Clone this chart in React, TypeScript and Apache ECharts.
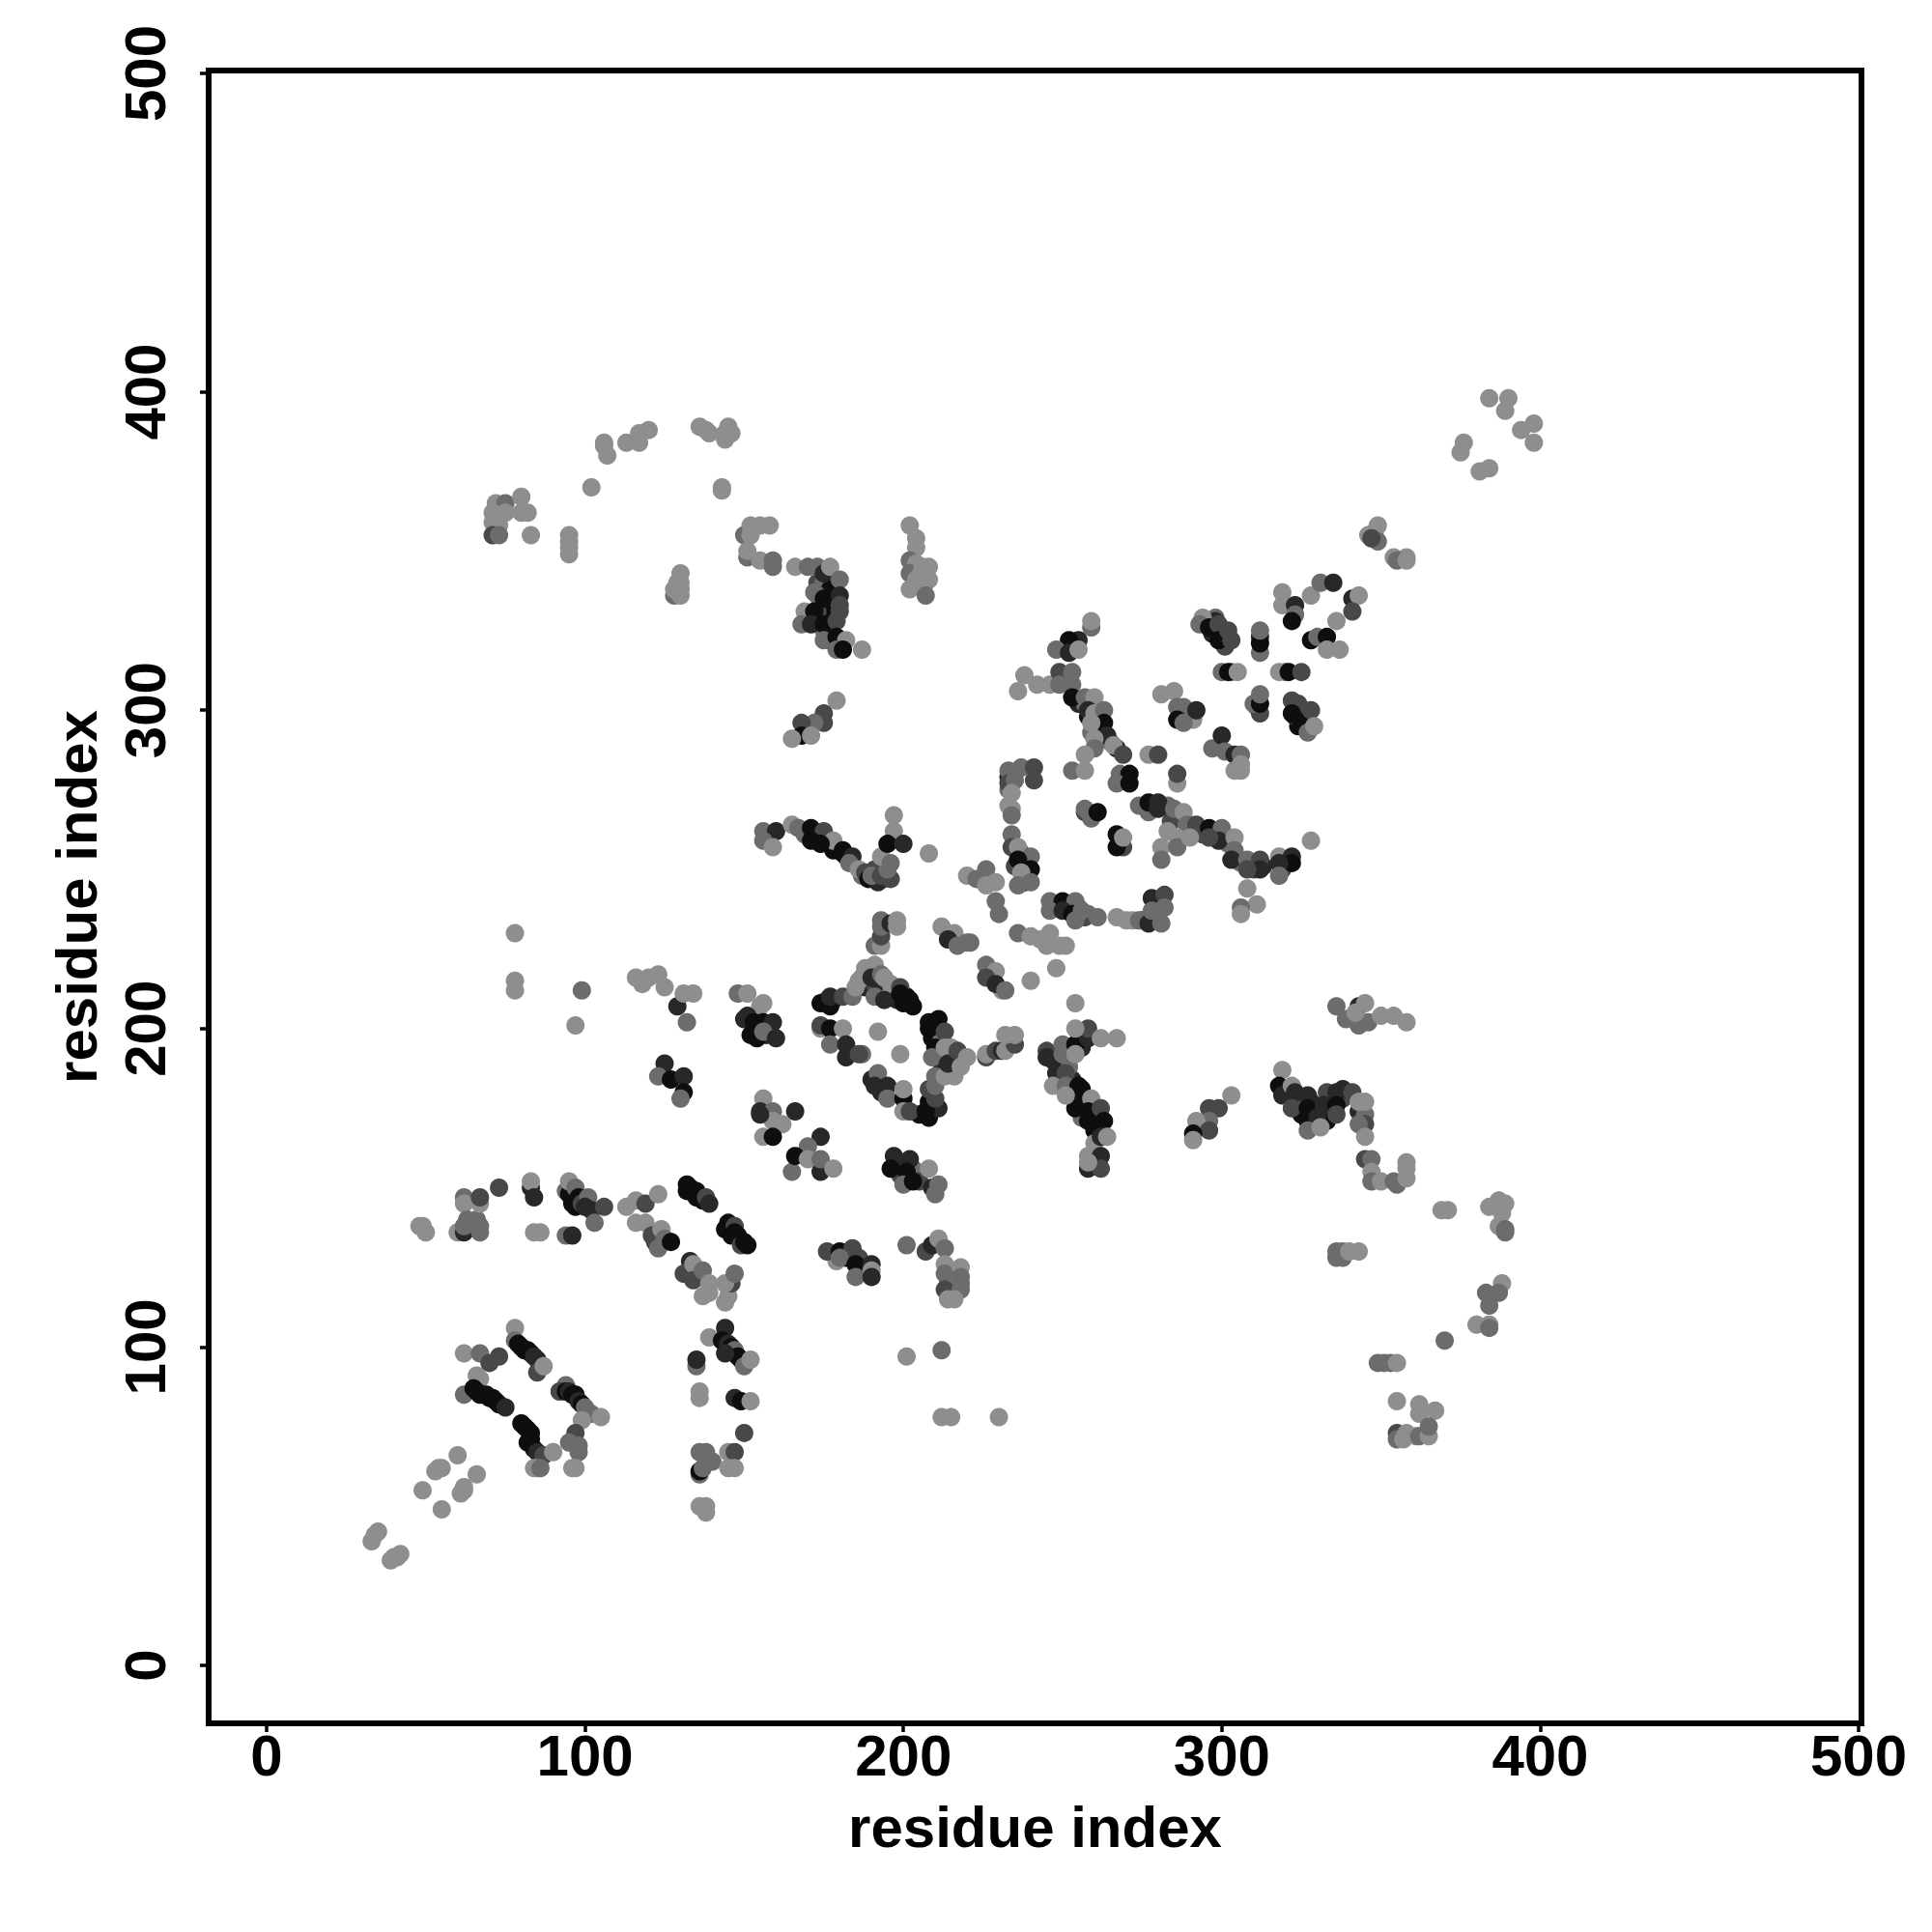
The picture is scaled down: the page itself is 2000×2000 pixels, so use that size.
import React, { useEffect, useRef } from "react";
import * as echarts from "echarts";

const TICKS = [0, 100, 200, 300, 400, 500];
const AXIS_TITLE = "residue index";
const SHADES = ["#8e8e8e", "#6c6c6c", "#484848", "#282828", "#0e0e0e"];

// [residue x, residue y, shade index]
const underlayBlock = [[173,340,2],[177,341,3],[175,340,1],[177,338,4],[175,331,4],[177,333,1],[177,330,4],[180,331,2],[177,326,4],[173,331,2],[170,328,4],[175,325,1],[177,322,4],[172,337,1],[207,342,3],[343,207,3]];
const underlayLoop = [[178,209,3],[176,209,2],[187,216,1],[188,213,3],[191,214,2],[193,213,3],[196,211,1],[198,209,3],[203,207,4],[201,210,4],[190,218,1],[186,215,0],[209,197,4],[212,197,1],[215,192,1],[216,190,0],[213,192,2],[212,189,3],[214,191,0],[218,190,1],[211,203,4],[205,173,4],[208,172,4],[211,175,3],[190,184,3],[193,180,3],[187,192,1]];
const underlayMid = [[152,203,4],[155,200,3],[157,198,3],[158,200,4],[153,199,4],[150,203,3],[152,198,4],[63,137,2],[64,139,0],[66,140,1]];
const underlayCol = [[256,177,4],[256,172,1],[253,184,3],[250,190,2],[252,188,1],[247,190,3],[256,194,3],[260,168,4],[260,164,0],[260,173,1],[256,181,4]];
const underlayRight = [[320,180,4],[322,178,3],[324,178,2],[325,173,4],[328,177,3],[329,173,4],[331,174,2],[334,178,3],[338,178,2],[334,174,3],[338,181,3],[329,170,1],[333,171,4]];
const underlayCurve = [[283,270,1],[287,266,0],[291,262,1],[294,261,2],[298,261,3],[302,258,1],[306,252,1],[310,250,2],[313,251,3],[319,250,2],[320,253,4],[290,264,1],[284,265,2],[283,262,0]];
const underlayBand = [[248,238,2],[252,238,3],[255,238,1],[258,236,1],[272,234,0],[275,234,3],[279,234,1],[280,240,1],[279,236,3],[233,279,3],[235,280,1],[233,275,1],[235,251,2],[237,255,3],[239,252,1],[238,248,3],[238,246,4]];
const underlayCross = [[255,302,3],[257,302,1],[261,298,4],[262,294,1],[265,290,1],[267,288,3],[259,293,1],[258,298,4],[289,298,1],[291,297,0],[288,299,4],[270,279,3],[269,278,2],[274,270,1]];
const underlayV = [[177,258,3],[182,254,2],[187,248,1],[191,250,2],[194,247,1],[172,261,3],[169,261,1],[173,260,4],[178,256,4]];
const underlayJ = [[198,158,4],[199,154,2],[199,157,3],[203,156,1],[205,152,2],[182,128,4],[183,130,3],[187,126,3],[188,124,4],[186,128,2],[179,127,0],[214,121,1],[216,123,2],[216,120,0],[216,118,1],[214,116,1],[218,120,1]];
const underlayTop = [[297,324,3],[300,325,4],[298,329,1],[301,320,2],[298,328,3],[312,323,3],[303,312,1],[320,312,1],[326,297,3],[324,295,4],[323,298,3],[311,301,1]];
const diagonalLow = [[35,42,0],[33,39,0],[34,41,0],[42,35,0],[39,33,0],[40,34,0],[41,34,0],[60,66,0],[55,62,0],[54,62,0],[53,61,0],[66,60,0],[49,55,0],[62,56,0],[61,54,0],[62,55,0],[55,49,0]];
const loopA = [[62,98,0],[67,98,1],[70,95,2],[73,97,2],[67,90,0],[66,91,0],[62,85,1],[65,87,4],[66,86,4],[67,85,4],[69,85,4],[70,84,4],[71,84,4],[72,83,4],[73,82,4],[75,81,3],
[78,106,0],[78,102,1],[79,101,4],[80,100,4],[81,99,4],[82,99,4],[83,98,4],[84,97,3],[85,96,3],[85,92,2],[87,94,0],
[94,88,1],[92,86,2],[94,86,4],[95,86,3],[96,85,4],[97,85,4],[98,83,3],[99,82,4],[100,81,1],[102,79,1],[99,77,0],[105,78,0],
[80,76,4],[81,75,4],[82,74,4],[83,73,4],[82,70,4],[83,71,4],[84,68,4],[85,67,3],[87,66,2],[90,67,0],[85,62,1],[84,62,0],[86,62,1],
[97,73,2],[95,70,1],[98,69,1],[98,67,1],[97,62,0],[96,62,0]];
const rowB = [[48,138,0],[49,138,0],[50,136,0],[62,147,1],[62,145,0],[67,145,0],[67,147,2],[73,150,2],[60,136,0],[62,136,3],[62,138,1],[67,136,1],[67,138,1],[63,140,1],
[83,150,3],[83,152,0],[84,147,3],[84,136,0],[86,136,0],[94,135,1],[96,135,3]];
const diagC = [[94,149,1],[95,148,4],[96,147,4],[95,152,0],[97,150,1],[98,147,4],[96,145,4],[97,144,4],[99,145,2],[101,147,1],[100,144,3],[102,143,3],[106,144,2],[103,139,1],
[113,144,0],[116,146,0],[119,145,2],[123,148,0],[116,139,0],[119,139,0],[121,135,2],[122,133,2],[124,137,0],[125,134,1],[123,131,1],[127,133,4],
[132,151,4],[132,149,4],[133,150,4],[134,149,4],[135,149,4],[135,147,4],[136,147,4],[137,146,4],[138,147,2],[139,145,3],[145,139,4],[144,137,4],[145,137,4],[147,138,2],[146,135,4],[147,136,4],[148,135,4],[149,132,2],[150,133,4],[151,132,4],
[133,127,3],[131,123,2],[134,126,0],[134,121,2],[137,124,1],[139,120,0],[139,117,0],[137,116,0],[144,114,0],[145,116,0],[146,120,2],[144,120,0],[147,123,1]];
const colD = [[139,103,0],[144,106,3],[143,102,4],[144,101,4],[145,101,3],[146,100,4],[147,99,1],[148,97,4],[149,96,4],[150,94,1],[144,98,3],[152,96,0],[135,94,1],[135,96,3],[136,84,0],[136,86,0],[147,84,3],[149,83,4],[152,83,0],[150,73,2],
[136,67,1],[138,67,1],[136,60,1],[136,61,4],[137,62,1],[140,64,1],[145,67,0],[147,67,2],[145,62,0],[147,62,0],[136,50,0],[138,50,0],[138,48,0]];
const midE = [[148,211,1],[151,211,0],[155,207,0],[151,204,3],[153,202,4],[156,208,0],[156,202,4],[159,202,3],[154,197,4],[156,199,1],[160,197,3],
[156,178,0],[155,174,3],[159,174,1],[166,174,3],[159,171,0],[162,170,0],[156,166,0],[159,166,4],
[174,166,3],[170,163,1],[165,155,1],[166,160,4],[170,159,0],[174,155,3],[174,159,1],[178,156,0],[155,173,3]];
const loopF = [[174,208,4],[177,207,4],[177,210,3],[181,210,2],[184,210,1],[185,213,0],[188,219,0],[191,220,0],[190,216,3],[191,210,1],[193,217,1],[194,216,0],[196,214,0],[194,209,3],[199,213,2],[199,211,4],[200,208,4],[202,209,4],
[174,200,0],[174,201,2],[177,200,4],[181,200,0],[177,195,1],[182,195,3],[182,191,3],[186,192,2],[192,199,0],[199,192,0],
[192,186,1],[191,182,3],[195,182,3],[195,178,1],[200,178,4],[200,181,0],[200,174,0],[202,174,2],[207,174,4],[208,177,4],[210,178,2],[208,181,2],[210,182,1],[210,185,1],[213,185,0],[216,185,0],
[208,202,4],[208,200,4],[210,201,4],[213,199,2],[210,194,4],[209,191,1],[213,194,0],[215,194,0],[214,189,3],[217,193,2],[218,188,0],[220,191,0],
[226,191,2],[226,192,0],[229,193,2],[231,193,3],[232,193,0],[235,195,2],[232,198,0],[235,198,0]];
const upperG = [[191,226,1],[193,226,0],[193,229,2],[193,232,1],[193,234,1],[196,233,3],[198,232,0],[198,234,0],
[212,232,0],[216,230,0],[214,228,3],[217,226,1],[220,227,1],
[226,220,1],[229,218,0],[226,216,2],[231,212,0],[229,214,3],[232,212,1],[240,215,0],[248,219,0],
[236,230,1],[240,229,0],[243,228,0],[246,230,0],[245,226,0],[249,226,0],[251,226,0],[254,208,0],[221,227,1]];
const colH = [[245,193,2],[245,191,3],[250,195,1],[250,192,1],[254,195,4],[258,197,3],[258,200,2],[254,200,0],[254,192,0],[262,197,0],[267,197,0],
[248,186,3],[251,186,2],[247,182,0],[251,182,1],[255,182,4],[254,179,4],[254,175,4],[251,179,0],[259,178,0],[258,174,4],[262,175,2],[258,171,4],[263,171,4],[262,166,3],[264,166,0],[258,160,0],[262,160,3],[258,156,3],[262,156,2],[258,158,0]];
const armI = [[303,179,0],[296,175,2],[299,175,2],[296,171,1],[292,171,0],[296,168,2],[291,167,4],[291,165,0]];
const lowerJ = [[197,160,3],[196,156,4],[202,159,3],[201,155,4],[200,151,1],[203,152,4],[208,156,0],[209,150,3],[211,151,1],[210,148,1],
[176,130,2],[180,130,4],[184,131,2],[180,128,1],[185,126,4],[190,126,3],[190,124,0],[185,122,1],[190,122,3],
[201,132,1],[207,130,2],[209,132,3],[211,134,0],[213,131,1],[213,126,0],[213,123,1],[218,125,0],[218,122,1],[213,118,2],[218,118,1],[216,115,0],[214,115,0],
[212,99,1],[201,97,0],[212,78,0],[215,78,0],[230,78,0]];
const leftK = [[78,230,0],[78,215,0],[78,212,0],[99,212,1],[97,201,0],[116,216,0],[118,214,0],[120,216,0],[123,217,0],[125,213,0],[129,207,3],[131,211,0],[134,211,0],[132,202,1],
[125,189,3],[123,185,1],[127,184,4],[131,185,3],[131,180,4],[130,178,1]];
const crossL = [[259,326,1],[259,328,0],[255,322,3],[252,322,4],[248,319,1],[252,318,3],[255,319,0],
[238,311,0],[236,306,0],[242,308,0],[246,308,0],[249,312,2],[253,312,1],[249,308,1],[253,308,1],[253,304,4],[257,304,1],[260,304,0],[258,300,3],[260,299,0],[263,300,1],[263,296,4],[259,296,0],[264,292,3],[260,291,0],[260,288,1],[266,289,0],[269,286,2],[253,281,1],[257,281,0],[257,286,0],
[277,286,0],[280,286,2],[286,277,0],[286,280,2],[268,280,1],[271,280,4],[267,277,1],[271,277,4],
[281,305,0],[285,306,0],[286,301,1],[288,301,1],[292,300,3],[286,297,4],[288,296,1],
[297,288,1],[300,292,3],[301,287,1],[304,286,3],[306,286,1],[306,283,0],[306,281,0],[304,281,0]];
const topM = [[294,329,0],[293,327,1],[296,326,4],[299,327,2],[299,322,4],[302,325,2],[303,322,2],
[312,318,1],[312,321,4],[312,325,1],[300,312,1],[302,312,4],[305,312,0],[318,312,0],[321,312,4],[325,312,2],
[312,299,2],[310,302,1],[312,302,4],[312,305,1],[322,303,2],[324,302,2],[322,299,4],[325,296,4],[328,300,2],[327,293,1],[329,295,0],
[319,337,0],[319,333,0],[323,333,3],[323,330,1],[322,328,4],[328,336,0],[331,340,1],[335,340,3],[341,335,3],[343,336,0],[341,331,2],[336,328,0],[328,322,4],[330,323,1],[333,323,4],[333,319,0],[337,319,0]];
const farN = [[348,356,1],[349,358,0],[346,355,0],[349,353,1],[347,354,2],[354,348,0],[358,348,0],[355,347,1],[358,347,0],
[384,398,0],[389,394,0],[390,398,0],[398,390,0],[394,388,0],[398,384,0],[376,384,0],[375,381,0],[384,376,0],[381,375,0]];
const curveO = [[233,281,1],[237,282,1],[241,282,2],[241,278,2],[233,277,2],[235,278,1],[234,274,0],[233,270,0],[234,269,0],[234,267,1],
[234,261,1],[234,257,2],[236,257,0],[240,254,1],[236,253,4],[240,250,4],[237,249,0],[240,246,1],[236,245,1],
[257,268,2],[257,269,1],[259,266,1],[261,268,4],[267,261,4],[269,257,2],[267,257,4],[269,260,0],
[277,268,1],[277,271,4],[280,271,3],[280,269,3],[285,269,1],[288,268,0],[289,264,1],[292,264,2],[296,263,4],[300,263,1],[299,259,3],[296,260,2],[304,260,0],[304,256,1],[281,257,0],[281,253,1],[286,260,0],[286,257,1],[290,260,0],
[303,253,3],[308,253,1],[312,253,2],[312,250,3],[308,250,2],[318,254,0],[322,254,3],[322,252,4],[318,252,3],[318,248,1],[308,244,0],[311,239,0],[306,238,1],[306,236,0],[328,259,0]];
const bandP = [[246,240,1],[250,240,4],[254,240,1],[246,237,1],[250,237,3],[253,236,4],[257,235,2],[256,237,1],[254,234,1],[261,235,1],
[267,235,0],[270,234,0],[274,234,1],[277,233,3],[281,233,1],[278,241,3],[282,242,2],[282,238,1],[278,237,1],
[220,248,0],[226,250,1],[223,247,1],[229,246,0],[226,245,0],[229,240,1],[230,236,1]];
const rightQ = [[336,207,1],[339,203,1],[345,208,0],[346,202,1],[343,201,1],[342,205,0],[350,204,0],[354,204,0],[358,202,0],
[319,187,0],[318,182,4],[319,179,3],[322,182,0],[323,180,3],[322,175,2],[327,179,3],[333,180,2],[336,180,3],[341,180,2],[327,175,4],[332,176,3],[336,176,4],[327,171,4],[330,172,3],[336,173,2],[327,168,1],[331,169,0],[343,174,3],[345,173,1],[345,170,2],[343,170,1],[345,177,0],[343,177,0],[345,166,0],
[345,159,2],[347,159,1],[347,155,0],[347,152,1],[350,152,0],[354,152,1],[355,151,1],[358,158,0],[358,156,0],[358,153,0]];
const farR = [[369,143,0],[371,143,0],[384,144,0],[387,146,0],[389,145,0],[388,142,0],[387,138,0],[389,137,1],[389,136,1],
[388,120,0],[383,117,1],[387,117,1],[384,113,1],[380,107,0],[384,107,0],[384,106,1],[370,102,1],
[349,95,1],[351,95,1],[353,95,1],[355,95,0],[336,130,1],[336,128,1],[338,128,1],[338,130,1],[340,130,0],[343,130,0],
[355,83,0],[362,82,0],[367,80,0],[362,79,0],[355,73,2],[355,71,1],[358,73,0],[357,71,0],[361,72,0],[362,72,1],[365,72,0],[365,75,1]];
const upperS = [[72,365,0],[75,365,1],[80,367,0],[71,362,0],[75,362,0],[82,362,0],[80,362,0],[71,359,0],[73,358,0],[71,355,2],[73,355,1],[83,355,0],
[95,355,0],[95,353,0],[95,351,0],[95,349,0],[102,370,0],[106,384,0],[107,380,0],[106,383,0],[113,384,0],[117,387,0],[120,388,0],[117,384,0],
[136,389,0],[138,388,0],[139,387,0],[145,389,0],[146,387,0],[144,385,0],[144,387,0],[143,370,0],[143,369,0],
[128,336,1],[130,336,0],[128,338,0],[129,340,0],[130,338,0],[130,340,0],[130,343,0],
[150,355,1],[152,355,0],[152,358,0],[155,358,0],[158,358,0],[151,348,1],[151,350,0],[155,347,0],[159,347,1],[159,345,1]];
const blockT = [[166,345,0],[170,345,1],[173,345,1],[175,343,3],[177,345,0],[180,341,1],[173,336,1],[175,335,4],[180,336,3],[180,333,2],[169,331,0],[172,331,4],[168,327,1],[171,327,3],[175,327,4],[179,328,2],[175,322,1],[179,323,4],[182,322,0],[179,319,1],[181,319,4],[187,319,0],
[179,303,0],[175,299,2],[175,296,2],[172,296,1],[168,296,2],[168,292,4],[171,292,0],[165,291,0]];
const columnU = [[202,358,0],[204,354,0],[204,351,0],[202,347,1],[204,346,0],[202,343,1],[206,345,0],[208,345,0],[205,342,0],[208,341,0],[202,338,0],[207,340,0],[204,341,0],[207,336,1]];
const bandV = [[156,262,1],[160,262,3],[156,259,1],[159,257,0],[165,264,0],[167,263,1],[171,263,4],[175,262,2],[171,259,4],[178,259,0],[174,258,4],[181,256,4],
[181,255,4],[184,254,3],[183,252,1],[186,250,0],[188,249,2],[189,247,4],[192,246,3],[190,248,1],[193,248,2],[196,247,2],[195,250,1],[193,254,0],[196,252,1],
[197,267,0],[197,262,0],[195,258,4],[200,258,3],[208,255,0]];

const allPoints = [underlayBlock, underlayLoop, underlayMid, underlayCol, underlayRight, underlayCurve, underlayBand, underlayCross, underlayV, underlayJ, underlayTop, diagonalLow, loopA, rowB, diagC, colD, midE, loopF, upperG, colH, armI, lowerJ, leftK, crossL, topM, farN, curveO, bandP, rightQ, farR, upperS, blockT, columnU, bandV].flat();

const FONT = "Liberation Sans";

export default function App() {
  const ref = useRef<HTMLDivElement>(null);
  useEffect(() => {
    document.body.style.margin = "0";
    const chart = echarts.init(ref.current!, null, { renderer: "svg" });
    const axisCommon = {
      type: "value",
      min: -18.2,
      max: 500.9,
      splitLine: { show: false },
      axisLine: { show: false, onZero: false },
      axisTick: { show: true, length: 9, customValues: TICKS, lineStyle: { color: "#000", width: 3.5 } },
      nameLocation: "middle",
      name: AXIS_TITLE,
      nameMoveOverlap: false,
      nameTextStyle: { color: "#000", fontFamily: FONT, fontWeight: "bold", fontSize: 60, verticalAlign: "middle" },
    };
    chart.setOption({
      animation: false,
      backgroundColor: "#fff",
      grid: { show: true, left: 216, right: 73, top: 73, bottom: 216, borderColor: "#000", borderWidth: 6, backgroundColor: "#fff" },
      xAxis: {
        ...axisCommon,
        nameGap: 107,
        axisLabel: { customValues: TICKS, color: "#000", fontFamily: FONT, fontWeight: "bold", fontSize: 60, margin: 3 },
      },
      yAxis: {
        ...axisCommon,
        nameGap: 137,
        axisLabel: { customValues: TICKS, rotate: 90, color: "#000", fontFamily: FONT, fontWeight: "bold", fontSize: 60, margin: 66, align: "center", verticalAlign: "middle" },
      },
      series: [{
        type: "scatter",
        symbol: "circle",
        symbolSize: 19,
        silent: true,
        data: allPoints,
        itemStyle: { opacity: 1, color: (p: any) => SHADES[p.data[2]] },
      }],
    });
    return () => chart.dispose();
  }, []);
  return <div ref={ref} style={{ position: "absolute", left: 0, top: 0, width: 2000, height: 2000 }} />;
}
